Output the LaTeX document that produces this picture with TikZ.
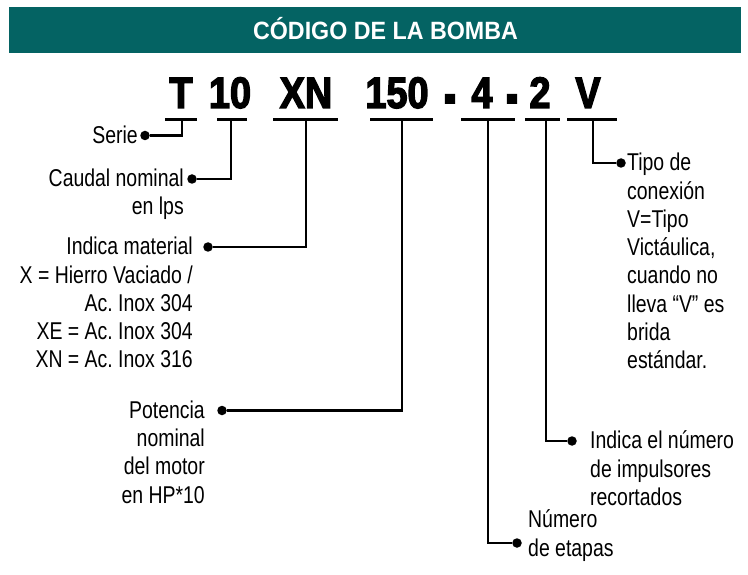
\documentclass[tikz,border=0pt]{standalone}
\usepackage{fontspec}
\usepackage{graphicx}
\setmainfont{Liberation Sans}[FakeStretch=0.8]
\newfontfamily\codefont{Liberation Sans}[FakeStretch=0.86, FakeBold=3]
\newfontfamily\titlefont{Liberation Sans}[FakeStretch=0.93]
\definecolor{bandteal}{RGB}{4,99,99}
\newcommand\fl{\rule{0pt}{23pt}}
\newcommand\codedash{\raisebox{-8pt}{\scalebox{0.95}[1.5]{-}}}
\frenchspacing
\begin{document}
\frenchspacing
\begin{tikzpicture}[x=1pt,y=-1pt,
  lbl/.style={font=\frenchspacing\fontsize{24.3}{28.3}\selectfont, inner sep=0pt},
  codech/.style={font=\codefont\bfseries\fontsize{44}{44}\selectfont, inner sep=0pt, anchor=base},
  bulletdot/.style={circle, fill=black, inner sep=0pt, minimum size=9.5pt},
  conn/.style={line width=2.8pt},
  bar/.style={line width=3pt}]
\useasboundingbox (0,0) rectangle (748,575);
% header band
\fill[bandteal] (9,7) rectangle (741,53);
\node[font=\titlefont\bfseries\fontsize{25}{25}\selectfont, text=white, anchor=base, inner sep=0pt] (title) at (385.5,39.5) {CÓDIGO DE LA BOMBA};
% code characters
\node[codech] (cT) at (181,108) {T};
\node[codech] (c10) at (230,108) {10};
\node[codech] (cXN) at (306,108) {XN};
\node[codech] (c150) at (397,108) {150};
\node[codech] (cd1) at (450,108) {\codedash};
\node[codech] (c4) at (482,108) {4};
\node[codech] (cd2) at (512,108) {\codedash};
\node[codech] (c2) at (540,108) {2};
\node[codech] (cV) at (588,108) {V};
% bar coordinates
\coordinate (bT1) at (165,119.5); \coordinate (bT2) at (197,119.5); \coordinate (jT) at (182,119.5);
\coordinate (b101) at (217,119.5); \coordinate (b102) at (247,119.5); \coordinate (j10) at (231,119.5);
\coordinate (bXN1) at (273,119.5); \coordinate (bXN2) at (338,119.5); \coordinate (jXN) at (306,119.5);
\coordinate (b1501) at (370,119.5); \coordinate (b1502) at (433,119.5); \coordinate (j150) at (402,119.5);
\coordinate (b41) at (461,119.5); \coordinate (b42) at (515,119.5); \coordinate (j4) at (488,119.5);
\coordinate (b21) at (525,119.5); \coordinate (b22) at (560,119.5); \coordinate (j2) at (546,119.5);
\coordinate (bV1) at (567,119.5); \coordinate (bV2) at (617,119.5); \coordinate (jV) at (593,119.5);
\foreach \b in {T,10,XN,150,4,2,V} \draw[bar] (b\b1) -- (b\b2);
% dots
\node[bulletdot] (dSerie) at (145,135.5) {};
\node[bulletdot] (dCaudal) at (192,179) {};
\node[bulletdot] (dMat) at (208,247) {};
\node[bulletdot] (dPot) at (222,410.5) {};
\node[bulletdot] (dEtapas) at (517,543) {};
\node[bulletdot] (dImp) at (572,441) {};
\node[bulletdot] (dTipo) at (621,163) {};
% connectors
\draw[conn] (jT) |- (dSerie);
\draw[conn] (j10) |- (dCaudal);
\draw[conn] (jXN) |- (dMat);
\draw[conn] (j150) |- (dPot);
\draw[conn] (j4) |- (dEtapas);
\draw[conn] (j2) |- (dImp);
\draw[conn] (jV) |- (dTipo);
% labels
\node[lbl, anchor=north east, align=right] (tSerie) at (138,120.5) {\fl Serie};
\node[lbl, anchor=north east, align=right] (tCaudal) at (184,163.5) {\fl Caudal nominal\\en lps};
\node[lbl, anchor=north east, align=right] (tMat) at (193,231.5) {\fl Indica material\\X = Hierro Vaciado /\\Ac. Inox 304\\XE = Ac. Inox 304\\XN = Ac. Inox 316};
\node[lbl, anchor=north east, align=right] (tPot) at (205,395) {\fl Potencia\\nominal\\del motor\\en HP*10};
\node[lbl, anchor=north west, align=left] (tTipo) at (627,147.5) {\fl Tipo de\\conexión\\V=Tipo\\Victáulica,\\cuando no\\lleva “V” es\\brida\\estándar.};
\node[lbl, anchor=north west, align=left] (tImp) at (590,425.5) {\fl Indica el número\\de impulsores\\recortados};
\node[lbl, anchor=north west, align=left] (tEtapas) at (528,504.5) {\fl Número\\de etapas};
\end{tikzpicture}
\end{document}
